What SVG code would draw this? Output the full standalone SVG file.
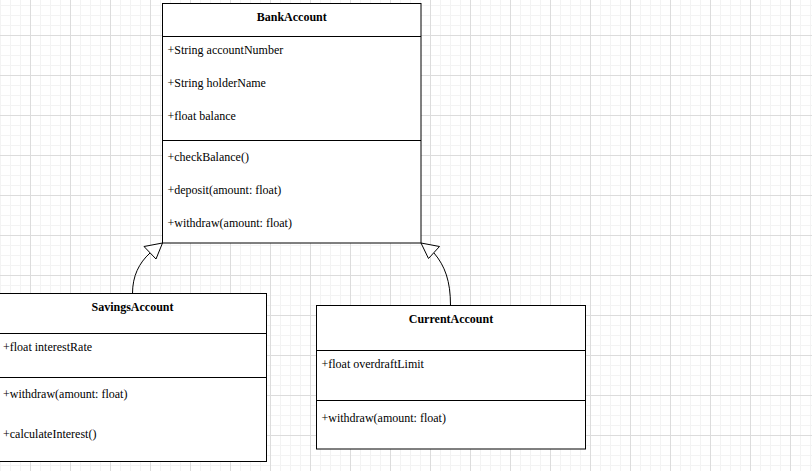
<svg xmlns="http://www.w3.org/2000/svg" width="812" height="471" viewBox="0 0 812 471">
<style>
.box{fill:#ffffff;stroke:#000000;stroke-width:1}
.div{stroke:#000000;stroke-width:1}
.title{font-family:"Liberation Serif","Times New Roman",serif;font-size:12px;font-weight:bold;fill:#000000;text-anchor:middle}
.item{font-family:"Liberation Serif","Times New Roman",serif;font-size:12px;fill:#000000}
.conn{fill:none;stroke:#000000;stroke-width:1}
.head{fill:#ffffff;stroke:#000000;stroke-width:1}
</style>
<defs>
<pattern id="grid" x="0" y="0" width="40" height="40" patternUnits="userSpaceOnUse">
<path d="M0.5 0V40M10.5 0V40M20.5 0V40M0 5.5H40M0 15.5H40M0 25.5H40" stroke="#f3f3f3" stroke-width="1" fill="none"/>
<path d="M30.5 0V40M0 35.5H40" stroke="#dcdcdc" stroke-width="1" fill="none"/>
</pattern>
</defs>
<rect x="0" y="0" width="812" height="471" fill="#ffffff"/>
<rect x="0" y="0" width="812" height="471" fill="url(#grid)"/>

<g id="connectors">
<path class="conn" d="M132.5 293.5C132.5 276 139 263 150 253"/>
<polygon class="head" points="162.5,243 144,246.5 156,259"/>
<path class="conn" d="M450.5 305.5C450.5 281 445 266 434 253"/>
<polygon class="head" points="421,243 439.5,246.5 428.5,258.5"/>
</g>

<g id="BankAccount">
<rect class="box" x="162.5" y="3.5" width="258.5" height="239.5"/>
<line class="div" x1="162.5" y1="36.5" x2="421" y2="36.5"/>
<line class="div" x1="162.5" y1="140.5" x2="421" y2="140.5"/>
<text class="title" x="291.75" y="21">BankAccount</text>
<text class="item" x="167.5" y="54">+String accountNumber</text>
<text class="item" x="167.5" y="87">+String holderName</text>
<text class="item" x="167.5" y="120">+float balance</text>
<text class="item" x="167.5" y="161">+checkBalance()</text>
<text class="item" x="167.5" y="194">+deposit(amount: float)</text>
<text class="item" x="167.5" y="227">+withdraw(amount: float)</text>
</g>

<g id="SavingsAccount">
<rect class="box" x="-1.5" y="293.5" width="268" height="168"/>
<line class="div" x1="-1.5" y1="333.5" x2="266.5" y2="333.5"/>
<line class="div" x1="-1.5" y1="377.5" x2="266.5" y2="377.5"/>
<text class="title" x="132.5" y="311">SavingsAccount</text>
<text class="item" x="3" y="351">+float interestRate</text>
<text class="item" x="3" y="398">+withdraw(amount: float)</text>
<text class="item" x="3" y="438">+calculateInterest()</text>
</g>

<g id="CurrentAccount">
<rect class="box" x="316.5" y="305.5" width="269" height="143.5"/>
<line class="div" x1="316.5" y1="350.5" x2="585.5" y2="350.5"/>
<line class="div" x1="316.5" y1="400.5" x2="585.5" y2="400.5"/>
<text class="title" x="451" y="323">CurrentAccount</text>
<text class="item" x="321.5" y="368">+float overdraftLimit</text>
<text class="item" x="321.5" y="422">+withdraw(amount: float)</text>
</g>
</svg>
